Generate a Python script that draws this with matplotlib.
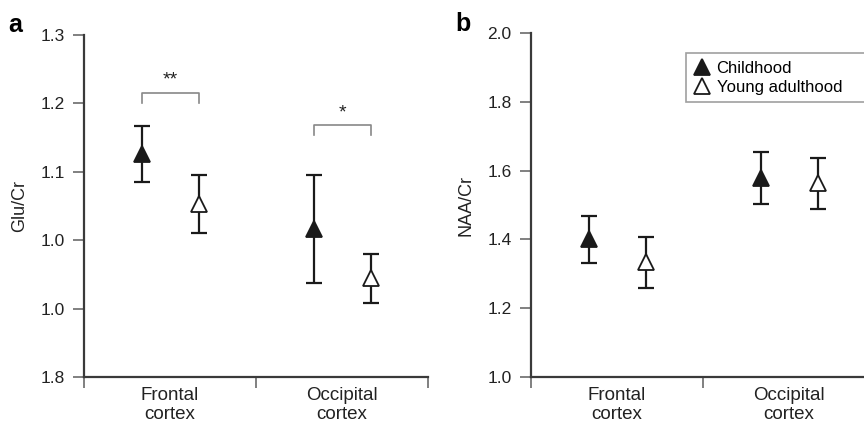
import numpy as np
import matplotlib
matplotlib.use("Agg")
import matplotlib.pyplot as plt
from matplotlib.lines import Line2D

plt.rcParams['font.family'] = ['Liberation Sans', 'DejaVu Sans']

regions = ['Frontal\ncortex', 'Occipital\ncortex']
groups = ['Childhood', 'Young adulthood']

# panel a: Glu/Cr
glu_mean = {'Childhood': [1.126, 1.016], 'Young adulthood': [1.053, 0.944]}
glu_err = {'Childhood': [0.041, 0.079], 'Young adulthood': [0.042, 0.036]}
glu_ticks = [0.8, 0.9, 1.0, 1.1, 1.2, 1.3]
glu_ticklabels = ['1.8', '1.0', '1.0', '1.1', '1.2', '1.3']
glu_sig = ['**', '*']
glu_bracket = [1.215, 1.168]

# panel b: NAA/Cr
naa_mean = {'Childhood': [1.40, 1.578], 'Young adulthood': [1.333, 1.563]}
naa_err = {'Childhood': [0.069, 0.076], 'Young adulthood': [0.074, 0.075]}
naa_ticks = [1.0, 1.2, 1.4, 1.6, 1.8, 2.0]
naa_ticklabels = ['1.0', '1.2', '1.4', '1.6', '1.8', '2.0']

centers = np.array([0.5, 1.5])
offset = {'Childhood': -0.165, 'Young adulthood': 0.17}
face = {'Childhood': '#1a1a1a', 'Young adulthood': 'white'}

axcol = '#3a3a3a'

fig = plt.figure(figsize=(8.64, 4.25), dpi=100)
ax1 = fig.add_axes([0.0972, 0.113, 0.398, 0.805])
ax2 = fig.add_axes([0.6146, 0.113, 0.398, 0.809])


def style(ax, ticks, labels, ylabel, ylim, xpad):
    ax.set_xlim(0, 2)
    ax.set_ylim(*ylim)
    for s in ['top', 'right']:
        ax.spines[s].set_visible(False)
    for s in ['left', 'bottom']:
        ax.spines[s].set_color(axcol)
        ax.spines[s].set_linewidth(1.6)
    ax.set_yticks(ticks)
    ax.set_yticklabels(labels)
    ax.set_xticks([0, 1, 2])
    ax.set_xticklabels([])
    ax.set_xticks(centers, minor=True)
    ax.set_xticklabels(regions, minor=True, linespacing=1.15)
    ax.tick_params(axis='x', which='minor', length=0, pad=xpad,
                   labelsize=13.5, labelcolor='#222222')
    ax.tick_params(axis='both', which='major', direction='out', length=8,
                   width=1.4, color='#808080', labelsize=12.5,
                   labelcolor='#222222', pad=6)
    ax.set_ylabel(ylabel, fontsize=13, color='#222222', labelpad=9)


def draw(ax, means, errs):
    for g in groups:
        x = centers + offset[g]
        ax.errorbar(x, means[g], yerr=errs[g], fmt='none', ecolor='#1a1a1a',
                    elinewidth=1.6, capsize=6, capthick=1.6, zorder=2)
        ax.plot(x, means[g], linestyle='none', marker='^', markersize=12,
                markerfacecolor=face[g], markeredgecolor='#1a1a1a',
                markeredgewidth=1.3, zorder=3)


style(ax1, glu_ticks, glu_ticklabels, 'Glu/Cr', (0.8, 1.3), 7)
draw(ax1, glu_mean, glu_err)
for i, c in enumerate(centers):
    x0 = c + offset['Childhood']
    x1 = c + offset['Young adulthood']
    yb = glu_bracket[i]
    ax1.plot([x0, x0, x1, x1], [yb - 0.015, yb, yb, yb - 0.015],
             color='#888888', lw=1.2)
    ax1.text((x0 + x1) / 2, yb + 0.006, glu_sig[i], ha='center', va='bottom',
             fontsize=14, color='#222222')

style(ax2, naa_ticks, naa_ticklabels, 'NAA/Cr', (1.0, 2.0), 7)
draw(ax2, naa_mean, naa_err)

handles = [Line2D([], [], linestyle='none', marker='^', markersize=11,
                  markerfacecolor=face[g], markeredgecolor='#1a1a1a',
                  markeredgewidth=1.3) for g in groups]
leg = ax2.legend(handles, groups, loc='upper left', mode='expand',
                 bbox_to_anchor=(0.45, 0.80, 0.6, 0.142), fontsize=12,
                 frameon=True, fancybox=False, borderaxespad=0,
                 handlelength=1.0, handletextpad=0.4, labelspacing=0.25,
                 borderpad=0.45)
leg.get_frame().set_edgecolor('#888888')
leg.get_frame().set_linewidth(1.2)

fig.text(0.009, 0.925, 'a', fontsize=18, fontweight='bold')
fig.text(0.527, 0.928, 'b', fontsize=18, fontweight='bold')

fig.savefig('out.png', dpi=100)
